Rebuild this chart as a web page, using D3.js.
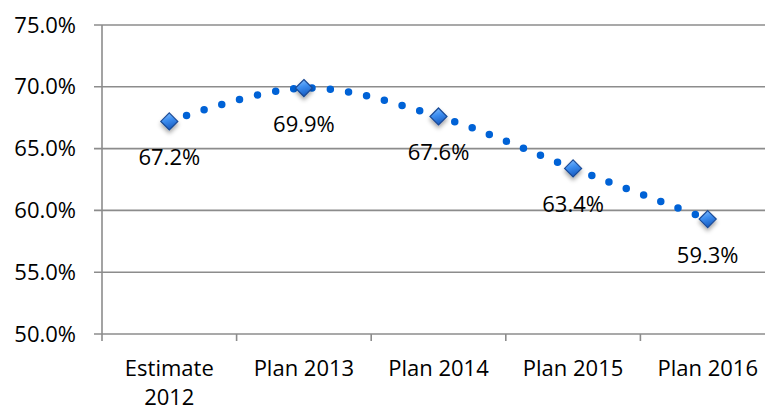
<!DOCTYPE html>
<html>
<head>
<meta charset="utf-8">
<script src="https://cdn.jsdelivr.net/npm/d3@7"></script>
<style>
  html, body { margin: 0; padding: 0; background: #fff; }
  svg { display: block; }
  text { font-family: "Open Sans", "Noto Sans", sans-serif; fill: #000; }
</style>
</head>
<body>
<svg id="chart" width="765" height="409"></svg>
<script>
const categories = ["Estimate 2012", "Plan 2013", "Plan 2014", "Plan 2015", "Plan 2016"];
const categoryLines = [["Estimate", "2012"], ["Plan 2013"], ["Plan 2014"], ["Plan 2015"], ["Plan 2016"]];
const values = [67.2, 69.9, 67.6, 63.4, 59.3];
const valueLabels = ["67.2%", "69.9%", "67.6%", "63.4%", "59.3%"];
const yTicks = [50, 55, 60, 65, 70, 75];
const yTickLabels = ["50.0%", "55.0%", "60.0%", "65.0%", "70.0%", "75.0%"];

(function () {
const svg = d3.select("#chart");
const mLeft = 102, mRight = 775, mTop = 25, mBottom = 334;

const x = d3.scaleBand().domain(categories).range([mLeft, mRight]).padding(0);
const y = d3.scaleLinear().domain([50, 75]).range([mBottom, mTop]);

const defs = svg.append("defs");
const grad = defs.append("linearGradient").attr("id", "mk").attr("x1", "0").attr("y1", "0").attr("x2", "0.3").attr("y2", "1");
grad.append("stop").attr("offset", "0").attr("stop-color", "#8cc4ff");
grad.append("stop").attr("offset", "0.5").attr("stop-color", "#3d8ef0");
grad.append("stop").attr("offset", "1").attr("stop-color", "#1b5fc4");
const f = defs.append("filter").attr("id", "sh").attr("x", "-100%").attr("y", "-100%").attr("width", "300%").attr("height", "300%");
f.append("feDropShadow").attr("dx", 0).attr("dy", 3).attr("stdDeviation", 2.2).attr("flood-color", "#000").attr("flood-opacity", 0.35);

const gridColor = "#8c8c8c";

svg.append("g").selectAll("line").data(yTicks).join("line")
  .attr("x1", mLeft - 8).attr("x2", mRight)
  .attr("y1", d => y(d)).attr("y2", d => y(d))
  .attr("stroke", gridColor).attr("stroke-width", 1.6);

svg.append("line").attr("x1", mLeft).attr("x2", mLeft).attr("y1", mTop).attr("y2", mBottom + 7)
  .attr("stroke", gridColor).attr("stroke-width", 1.6);

const xBounds = categories.map(c => x(c)).concat([mRight]);
svg.append("g").selectAll("line").data(xBounds.slice(1)).join("line")
  .attr("x1", d => d).attr("x2", d => d).attr("y1", mBottom).attr("y2", mBottom + 7)
  .attr("stroke", gridColor).attr("stroke-width", 1.6);

svg.append("g").selectAll("text").data(yTicks).join("text")
  .attr("x", 76).attr("y", d => y(d) + 7.5)
  .attr("text-anchor", "end").attr("font-size", 22)
  .text((d, i) => yTickLabels[i]);

const xl = svg.append("g").selectAll("text").data(categories).join("text")
  .attr("x", d => x(d) + x.bandwidth() / 2).attr("y", 376)
  .attr("text-anchor", "middle").attr("font-size", 22);
xl.each(function(d, i) {
  const t = d3.select(this);
  categoryLines[i].forEach((ln, j) => {
    t.append("tspan").attr("x", x(d) + x.bandwidth() / 2).attr("dy", j === 0 ? 0 : 29).text(ln);
  });
});

const pts = categories.map((c, i) => [x(c) + x.bandwidth() / 2, y(values[i])]);
const line = d3.line().curve(d3.curveCardinal.tension(0));
svg.append("path").attr("d", line(pts))
  .attr("fill", "none").attr("stroke", "#0062d6").attr("stroke-width", 7.5)
  .attr("stroke-linecap", "round").attr("stroke-dasharray", "0 18.4");

const s = 8.5;
svg.append("g").selectAll("path").data(pts).join("path")
  .attr("d", d => `M${d[0]},${d[1]-s}L${d[0]+s},${d[1]}L${d[0]},${d[1]+s}L${d[0]-s},${d[1]}Z`)
  .attr("fill", "url(#mk)").attr("stroke", "#1a4a96").attr("stroke-width", 1.2)
  .attr("filter", "url(#sh)");

svg.append("g").selectAll("text").data(pts).join("text")
  .attr("x", d => d[0]).attr("y", d => d[1] + 44)
  .attr("text-anchor", "middle").attr("font-size", 22)
  .text((d, i) => valueLabels[i]);
})();
</script>
</body>
</html>
